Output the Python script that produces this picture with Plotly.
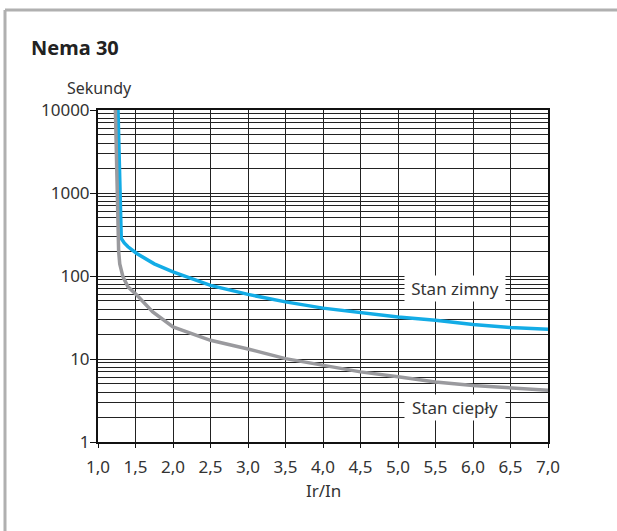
import plotly.graph_objects as go
import math

# ---- data ----
cold_x = [1.267, 1.29, 1.31, 1.35, 1.4, 1.517, 1.75, 2.0, 2.5, 3.0, 3.5, 4.0, 4.5, 5.0, 5.5, 6.0, 6.5, 7.0]
cold_y = [10000, 1000, 283, 250, 225, 187, 140, 112, 77, 60, 48.8, 41, 35.9, 32, 29.3, 26, 24, 22.8]

hot_x = [1.232, 1.253, 1.275, 1.29, 1.31, 1.333, 1.4, 1.517, 1.73, 2.0, 2.5, 3.0, 3.5, 4.0, 4.5, 5.0, 5.5, 6.0, 6.5, 7.0]
hot_y = [10000, 1000, 200, 140, 112, 97.5, 74, 59, 36.9, 24.3, 16.8, 13.2, 10.1, 8.4, 7.0, 6.1, 5.3, 4.8, 4.5, 4.2]

x_ticks = [1.0, 1.5, 2.0, 2.5, 3.0, 3.5, 4.0, 4.5, 5.0, 5.5, 6.0, 6.5, 7.0]
x_ticktext = ["1,0", "1,5", "2,0", "2,5", "3,0", "3,5", "4,0", "4,5", "5,0", "5,5", "6,0", "6,5", "7,0"]
y_ticks = [1, 10, 100, 1000, 10000]
y_ticktext = ["1", "10", "100", "1000", "10000"]
y_minor = [m * d for d in [1, 10, 100, 1000] for m in range(2, 10)]

title = "Nema 30"
y_title = "Sekundy"
x_title = "Ir/In"
label_cold = "Stan zimny"
label_hot = "Stan ciepły"
label_cold_pos = (5.76, 71)
label_hot_pos = (5.76, 2.6)

# ---- layout geometry ----
W, H = 617, 531
L, R, T, B = 98, 548, 110, 442
FONT = "Noto Sans"
TXT = "#333333"
GRID = "#222222"

def px_x(p):
    return (p - L) / (R - L)

def px_y(p):
    return (B - p) / (B - T)

fig = go.Figure()
fig.add_trace(go.Scatter(x=cold_x, y=cold_y, mode="lines",
                         line=dict(color="#13ace6", width=3.5), showlegend=False))
fig.add_trace(go.Scatter(x=hot_x, y=hot_y, mode="lines",
                         line=dict(color="#9a9a9e", width=3.5), showlegend=False))

fig.update_layout(
    width=W, height=H,
    margin=dict(l=L, r=W - R, t=T, b=H - B, pad=0),
    paper_bgcolor="white", plot_bgcolor="white",
    font=dict(family=FONT, size=16, color=TXT),
    showlegend=False,
)
fig.update_xaxes(
    range=[1.0, 7.0], tickvals=x_ticks, ticktext=x_ticktext,
    showgrid=True, gridcolor=GRID, gridwidth=1,
    showline=True, linecolor="#111111", linewidth=2, mirror=True,
    ticks="outside", ticklen=4, tickcolor="#111111", zeroline=False,
    ticklabelstandoff=5,
    tickfont=dict(family=FONT, size=17, color=TXT),
)
fig.update_yaxes(
    type="log", range=[0, 4], tickvals=y_ticks, ticktext=y_ticktext,
    showgrid=True, gridcolor=GRID, gridwidth=1,
    minor=dict(tickvals=y_minor, showgrid=True, gridcolor=GRID, gridwidth=1, ticks=""),
    showline=True, linecolor="#111111", linewidth=2, mirror=True,
    ticks="outside", ticklen=6, tickcolor="#111111", zeroline=False,
    ticklabelstandoff=-3,
    tickfont=dict(family=FONT, size=17, color=TXT),
)

ann = [
    dict(text="<b>" + title + "</b>", x=px_x(29), y=px_y(48), xref="paper", yref="paper",
         xanchor="left", yanchor="middle", showarrow=False,
         font=dict(family=FONT, size=20, color="#222222")),
    dict(text=y_title, x=px_x(99), y=px_y(88), xref="paper", yref="paper",
         xanchor="center", yanchor="middle", showarrow=False,
         font=dict(family=FONT, size=16, color=TXT)),
    dict(text=x_title, x=0.5, y=px_y(490), xref="paper", yref="paper",
         xanchor="center", yanchor="middle", showarrow=False,
         font=dict(family=FONT, size=17, color=TXT)),
    dict(text=label_cold, x=label_cold_pos[0], y=math.log10(label_cold_pos[1]),
         xref="x", yref="y", showarrow=False, bgcolor="white", borderpad=2,
         width=96, height=21,
         font=dict(family=FONT, size=17, color=TXT)),
    dict(text=label_hot, x=label_hot_pos[0], y=math.log10(label_hot_pos[1]),
         xref="x", yref="y", showarrow=False, bgcolor="white", borderpad=2,
         width=96, height=21,
         font=dict(family=FONT, size=17, color=TXT)),
]
fig.update_layout(annotations=ann)

# page frame (top and left edges)
frame_col = "#b0b0b0"
fig.add_shape(type="line", xref="paper", yref="paper",
              x0=px_x(5), x1=px_x(618), y0=px_y(10), y1=px_y(10),
              line=dict(color=frame_col, width=3))
fig.add_shape(type="line", xref="paper", yref="paper",
              x0=px_x(5), x1=px_x(5), y0=px_y(10), y1=px_y(532),
              line=dict(color=frame_col, width=3))

fig.write_html(
    "out.html", config={"displayModeBar": False},
    post_script=("document.body.style.margin='0px';"
                 "document.body.style.overflow='hidden';"
                 "document.documentElement.style.overflow='hidden';"
                 "var d=document.getElementsByClassName('plotly-graph-div')[0];"
                 "if(d){d.style.overflow='hidden';}"),
)
